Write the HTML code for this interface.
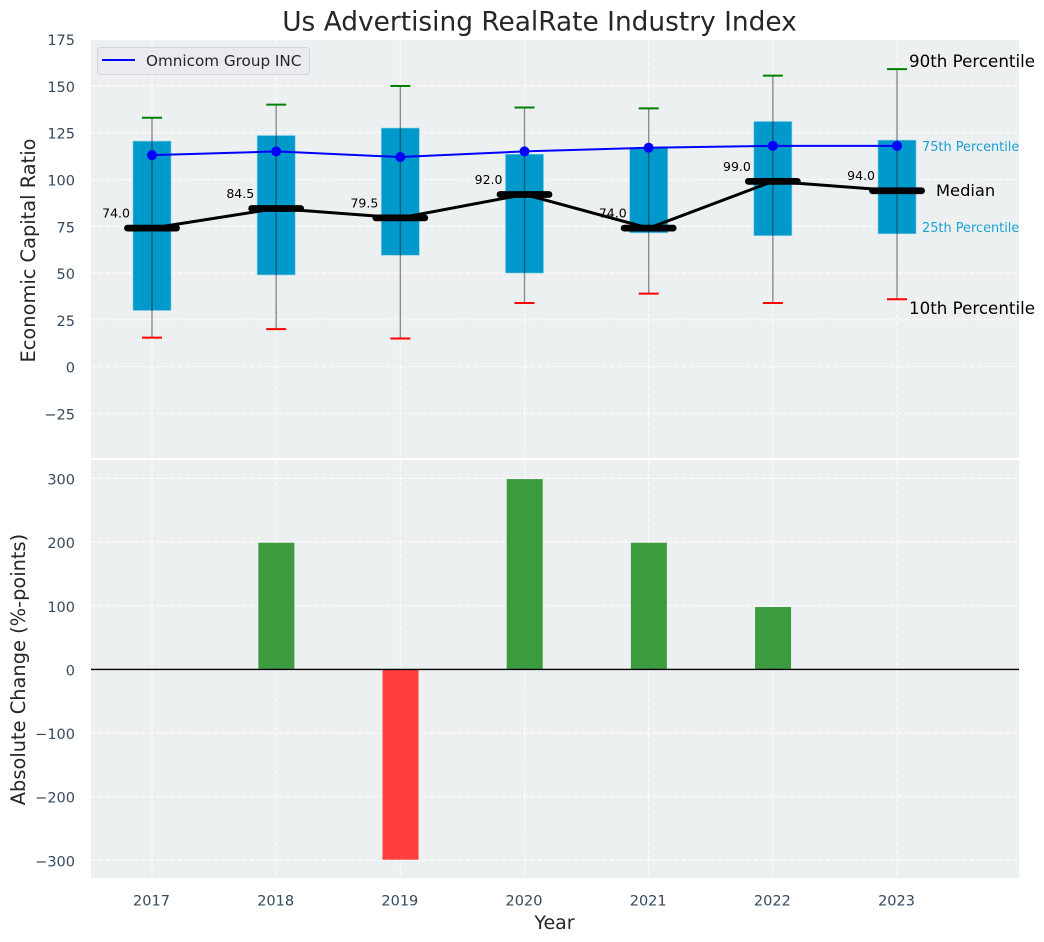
<!DOCTYPE html>
<html lang="en">
<head>
<meta charset="utf-8">
<title>Us Advertising RealRate Industry Index</title>
<style>
  html, body { margin: 0; padding: 0; background: #ffffff; width: 1044px; height: 942px; overflow: hidden; }
  svg { display: block; font-family: "DejaVu Sans", "Liberation Sans", sans-serif; }
</style>
</head>
<body>
<svg id="chart" width="1044" height="942" viewBox="0 0 1044 942" xmlns="http://www.w3.org/2000/svg">
  <rect x="91" y="40" width="928" height="419" fill="#ecf0f1"/>
  <rect x="91" y="460" width="928" height="418" fill="#ecf0f1"/>
  <g id="grid-layer"></g>
  <rect x="91" y="458" width="928" height="2" fill="#ffffff"/>
  <g id="upper-layer"></g>
  <g id="lower-layer"></g>
  <g id="tick-layer"></g>

  <text x="539.5" y="30.5" text-anchor="middle" font-size="26.4px" fill="#262626">Us Advertising RealRate Industry Index</text>
  <text transform="translate(35,250.5) rotate(-90)" text-anchor="middle" font-size="19.4px" fill="#262626">Economic Capital Ratio</text>
  <text transform="translate(25,669.5) rotate(-90)" text-anchor="middle" font-size="19.4px" fill="#262626">Absolute Change (%-points)</text>
  <text x="554.5" y="929" text-anchor="middle" font-size="19px" fill="#262626">Year</text>

  <g>
    <rect x="97.5" y="47.5" width="212" height="27" rx="3" fill="#e9ebf1" stroke="#d2d5d9" stroke-width="1"/>
    <line x1="102" y1="60" x2="135" y2="60" stroke="#0000ff" stroke-width="2"/>
    <text x="146" y="66" font-size="15.2px" fill="#262626">Omnicom Group INC</text>
  </g>

  <g>
    <text x="909" y="67" font-size="16.7px" fill="#000000">90th Percentile</text>
    <text x="922" y="151" font-size="12.9px" fill="#1aa0d2">75th Percentile</text>
    <text x="936" y="196" font-size="16.3px" fill="#000000">Median</text>
    <text x="922" y="232" font-size="12.9px" fill="#1aa0d2">25th Percentile</text>
    <text x="909" y="314" font-size="16.7px" fill="#000000">10th Percentile</text>
  </g>
</svg>
<script>
const years = [2017, 2018, 2019, 2020, 2021, 2022, 2023];
const p10 = [15.5, 20, 15, 34, 39, 34, 36];
const q1 = [30, 49, 59.5, 50, 71.5, 70, 71];
const median = [74, 84.5, 79.5, 92, 74, 99, 94];
const q3 = [120.5, 123.5, 127.5, 113.5, 117, 131, 121];
const p90 = [133, 140, 150, 138.5, 138, 155.5, 159];
const omnicom = [113, 115, 112, 115, 117, 118, 118];
const absoluteChange = [0, 199, -299, 299, 199, 98, 0];
const upperTicks = [175, 150, 125, 100, 75, 50, 25, 0, -25];
const lowerTicks = [300, 200, 100, 0, -100, -200, -300];

const SVG_NS = 'http://www.w3.org/2000/svg';
const gridLayer = document.getElementById('grid-layer');
const upperLayer = document.getElementById('upper-layer');
const lowerLayer = document.getElementById('lower-layer');
const tickLayer = document.getElementById('tick-layer');

function xScale(year) { return 152 + (year - 2017) * 124.17; }
function yUpper(value) { return 366.6 - value * 1.871; }
function yLower(value) { return 669.4 - value * 0.6365; }
function formatTick(value) { return value < 0 ? '\u2212' + Math.abs(value) : String(value); }

function make(tag, parent, attrs) {
  const node = document.createElementNS(SVG_NS, tag);
  Object.keys(attrs).forEach(function (key) { node.setAttribute(key, attrs[key]); });
  parent.appendChild(node);
  return node;
}

const gridStyle = { stroke: '#ffffff', 'stroke-width': 1.1, 'stroke-dasharray': '5 2.2', 'stroke-opacity': 0.85 };

upperTicks.forEach(function (tick) {
  const y = yUpper(tick);
  const line = make('line', gridLayer, Object.assign({ x1: 91, x2: 1019, y1: y, y2: y }, gridStyle));
  
  
  const label = make('text', tickLayer, { x: 75, y: y + 6, 'text-anchor': 'end', 'font-size': '14.5px', fill: '#34495e' });
  
  
  label.textContent = formatTick(tick);
});

lowerTicks.forEach(function (tick) {
  const y = yLower(tick);
  const line = make('line', gridLayer, Object.assign({ x1: 91, x2: 1019, y1: y, y2: y }, gridStyle));
  
  
  const label = make('text', tickLayer, { x: 75, y: y + 6, 'text-anchor': 'end', 'font-size': '14.5px', fill: '#34495e' });
  
  
  label.textContent = formatTick(tick);
});

years.forEach(function (year) {
  const x = xScale(year);
  const upperLine = make('line', gridLayer, Object.assign({ x1: x, x2: x, y1: 40, y2: 459 }, gridStyle));
  
  
  const lowerLine = make('line', gridLayer, Object.assign({ x1: x, x2: x, y1: 460, y2: 878 }, gridStyle));
  
  
  const label = make('text', tickLayer, { x: x - 0.5, y: 905.5, 'text-anchor': 'middle', 'font-size': '14.5px', fill: '#34495e' });
  
  
  label.textContent = String(year);
});

/* percentile boxes */
years.forEach(function (year, i) {
  const halfWidth = 0.153 * 124.17;
  const box = make('rect', upperLayer, {
    x: xScale(year) - halfWidth,
    y: yUpper(q3[i]),
    width: halfWidth * 2,
    height: yUpper(q1[i]) - yUpper(q3[i]),
    fill: '#0099cc',
    stroke: '#7fcce6',
    'stroke-width': 0.6
  });
  
  
});

/* whiskers */
years.forEach(function (year, i) {
  const x = xScale(year);
  const stem = make('line', upperLayer, { x1: x, x2: x, y1: yUpper(p90[i]), y2: yUpper(p10[i]), stroke: '#222222', 'stroke-opacity': 0.5, 'stroke-width': 1.4 });
  
  
  const top = make('line', upperLayer, { x1: x - 10, x2: x + 10, y1: yUpper(p90[i]), y2: yUpper(p90[i]), stroke: '#008000', 'stroke-width': 2 });
  
  
  const bottom = make('line', upperLayer, { x1: x - 10, x2: x + 10, y1: yUpper(p10[i]), y2: yUpper(p10[i]), stroke: '#ff0000', 'stroke-width': 2 });
  
  
});

/* median connecting line */
const medianPath = make('polyline', upperLayer, {
  points: years.map(function (year, i) { return xScale(year) + ',' + yUpper(median[i]); }).join(' '),
  fill: 'none',
  stroke: '#000000',
  'stroke-width': 3
});



/* median bars and value labels */
years.forEach(function (year, i) {
  const x = xScale(year);
  const y = yUpper(median[i]);
  const bar = make('line', upperLayer, { x1: x - 24.5, x2: x + 24.5, y1: y, y2: y, stroke: '#000000', 'stroke-width': 6.8, 'stroke-linecap': 'round' });
  
  
  const label = make('text', upperLayer, { x: x - 22, y: y - 10.6, 'text-anchor': 'end', 'font-size': '12.5px', fill: '#000000' });
  
  
  label.textContent = median[i].toFixed(1);
});

/* company series */
const omnicomPath = make('polyline', upperLayer, {
  points: years.map(function (year, i) { return xScale(year) + ',' + yUpper(omnicom[i]); }).join(' '),
  fill: 'none',
  stroke: '#0000ff',
  'stroke-width': 2
});



years.forEach(function (year, i) {
  const dot = make('circle', upperLayer, { cx: xScale(year), cy: yUpper(omnicom[i]), r: 5, fill: '#0000ff' });
  
  
});

/* absolute change bars */
years.forEach(function (year, i) {
  const value = absoluteChange[i];
  const halfWidth = 0.145 * 124.17;
  const yValue = yLower(value);
  const yZero = yLower(0);
  const bar = make('rect', lowerLayer, {
    x: xScale(year) - halfWidth + 0.2,
    y: Math.min(yValue, yZero),
    width: halfWidth * 2,
    height: Math.abs(yZero - yValue),
    fill: value >= 0 ? '#3c9c3d' : '#ff3f3f'
  });
  
  
});

const zeroLine = make('line', lowerLayer, { x1: 91, x2: 1019, y1: yLower(0), y2: yLower(0), stroke: '#000000', 'stroke-width': 1.4 });


</script>
</body>
</html>
